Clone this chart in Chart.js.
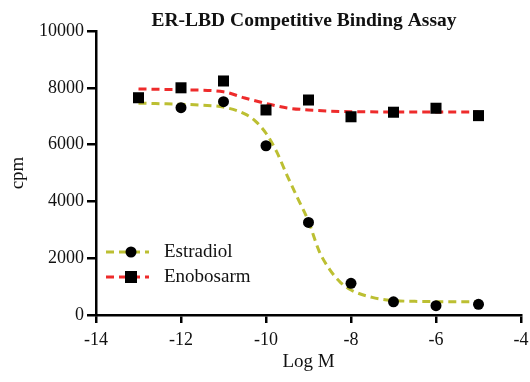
<!DOCTYPE html>
<html>
<head>
<meta charset="utf-8">
<script src="https://cdn.jsdelivr.net/npm/chart.js@4.4.1/dist/chart.umd.min.js"></script>
<style>
  html, body { margin: 0; padding: 0; background: #fff; }
  #wrap { width: 530px; height: 382px; }
</style>
</head>
<body>
<div id="wrap"><canvas id="bindingChart" width="530" height="382"></canvas></div>
<script>
// measured points (log molar concentration vs cpm)
const estradiolLogM = [-12, -11, -10, -9, -8, -7, -6, -5];
const estradiolCpm = [7300, 7510, 5960, 3260, 1115, 465, 330, 375];
const enobosarmLogM = [-13, -12, -11, -10, -9, -8, -7, -6, -5];
const enobosarmCpm = [7650, 8000, 8240, 7220, 7570, 6980, 7140, 7280, 7020];

// fitted curves as drawn
const estradiolFitLogM = [-13, -12.5, -12, -11.5, -11, -10.5, -10.25, -10, -9.75, -9.5, -9.25, -9, -8.75, -8.5, -8.25, -8, -7.5, -7, -6.5, -6, -5.5, -5];
const estradiolFitCpm = [7460, 7440, 7420, 7390, 7320, 7080, 6830, 6400, 5750, 4900, 4100, 3300, 2250, 1600, 1150, 880, 620, 510, 480, 470, 465, 465];
const enobosarmFitLogM = [-13, -12, -11, -10.5, -10, -9.5, -9, -8.5, -8, -7, -6, -5];
const enobosarmFitCpm = [7960, 7930, 7860, 7640, 7450, 7290, 7220, 7180, 7160, 7150, 7150, 7150];

const xTicks = [-14, -12, -10, -8, -6, -4];
const yTicks = [0, 2000, 4000, 6000, 8000, 10000];
const seriesNames = ["Estradiol", "Enobosarm"];

const olive = "#bcbf32";
const red = "#ee2b2b";
const serif = "'Liberation Serif', 'DejaVu Serif', serif";

Chart.defaults.font.family = serif;
Chart.defaults.color = "#111";

let pairs = (xs, ys) => xs.map((x, i) => ({ x: x, y: ys[i] }));

// title and the line+marker legend
const extrasPlugin = {
  id: "extras",
  afterDraw(chart) {
    const ctx = chart.ctx;
    ctx.save();
    ctx.fillStyle = "#111";
    ctx.font = "bold 19.5px " + serif;
    ctx.textAlign = "center";
    ctx.textBaseline = "middle";
    ctx.fillText("ER-LBD Competitive Binding Assay", 304, 21);

    const rows = [
      { label: seriesNames[0], color: olive, style: "circle", y: 252 },
      { label: seriesNames[1], color: red, style: "rect", y: 277 },
    ];
    rows.forEach((row) => {
      ctx.strokeStyle = row.color;
      ctx.lineWidth = 3;
      ctx.setLineDash([8, 5]);
      ctx.beginPath();
      ctx.moveTo(106, row.y);
      ctx.lineTo(149, row.y);
      ctx.stroke();
      ctx.setLineDash([]);
      ctx.fillStyle = "#000";
      if (row.style === "circle") {
        ctx.beginPath();
        ctx.arc(131, row.y, 5.5, 0, Math.PI * 2);
        ctx.fill();
      } else {
        ctx.fillRect(125, row.y - 6, 12, 12);
      }
      ctx.fillStyle = "#111";
      ctx.font = "19px " + serif;
      ctx.textAlign = "left";
      ctx.fillText(row.label, 164, row.y);
    });
    ctx.restore();
  },
};

const ctx = document.getElementById("bindingChart").getContext("2d");
const bindingChart = new Chart(ctx, {
  type: "line",
  data: {
    datasets: [
      {
        label: seriesNames[1],
        data: pairs(enobosarmLogM, enobosarmCpm),
        showLine: false,
        pointStyle: "rect",
        pointRadius: 7.8,
        pointBackgroundColor: "#000",
        pointBorderWidth: 0,
        order: 1,
      },
      {
        label: seriesNames[0],
        data: pairs(estradiolLogM, estradiolCpm),
        showLine: false,
        pointStyle: "circle",
        pointRadius: 5.5,
        pointBackgroundColor: "#000",
        pointBorderWidth: 0,
        order: 2,
      },
      {
        label: seriesNames[1] + " fit",
        data: pairs(enobosarmFitLogM, enobosarmFitCpm),
        borderColor: red,
        borderWidth: 3,
        borderDash: [8, 5],
        pointRadius: 0,
        cubicInterpolationMode: "monotone",
        order: 3,
      },
      {
        label: seriesNames[0] + " fit",
        data: pairs(estradiolFitLogM, estradiolFitCpm),
        borderColor: olive,
        borderWidth: 3,
        borderDash: [8, 5],
        pointRadius: 0,
        cubicInterpolationMode: "monotone",
        order: 4,
      },
    ],
  },
  options: {
    responsive: false,
    animation: false,
    layout: { padding: { left: 0, right: 9, top: 31, bottom: 8 } },
    plugins: {
      legend: { display: false },
      tooltip: { enabled: false },
    },
    scales: {
      x: {
        type: "linear",
        min: xTicks[0],
        max: xTicks[xTicks.length - 1],
        afterBuildTicks: (scale) => {
          scale.ticks = xTicks.map((v) => ({ value: v }));
        },
        afterFit: (scale) => {
          scale.height = 59;
          // keep the end labels from pushing the plot inward
          scale.paddingLeft = 0;
          scale.paddingRight = 0;
        },
        ticks: {
          color: "#111",
          font: { family: serif, size: 18 },
          padding: 6,
          callback: (v) => String(v),
        },
        grid: {
          drawOnChartArea: false,
          drawTicks: true,
          tickLength: 8,
          color: "#000",
          lineWidth: 2.5,
        },
        border: { display: true, color: "#000", width: 2.5 },
        title: {
          display: true,
          text: "Log M",
          color: "#111",
          font: { family: serif, size: 19 },
          padding: { top: 0, bottom: 1 },
        },
      },
      y: {
        type: "linear",
        min: yTicks[0],
        max: yTicks[yTicks.length - 1],
        afterBuildTicks: (scale) => {
          scale.ticks = yTicks.map((v) => ({ value: v }));
        },
        afterFit: (scale) => {
          scale.width = 96;
        },
        ticks: {
          color: "#111",
          font: { family: serif, size: 18 },
          padding: 3,
          callback: (v) => String(v),
        },
        grid: {
          drawOnChartArea: false,
          drawTicks: true,
          tickLength: 9,
          color: "#000",
          lineWidth: 2.5,
        },
        border: { display: true, color: "#000", width: 2.5 },
        title: {
          display: true,
          text: "cpm",
          color: "#111",
          font: { family: serif, size: 19 },
          padding: { top: 7, bottom: 4 },
        },
      },
    },
  },
  plugins: [extrasPlugin],
});
</script>
</body>
</html>
